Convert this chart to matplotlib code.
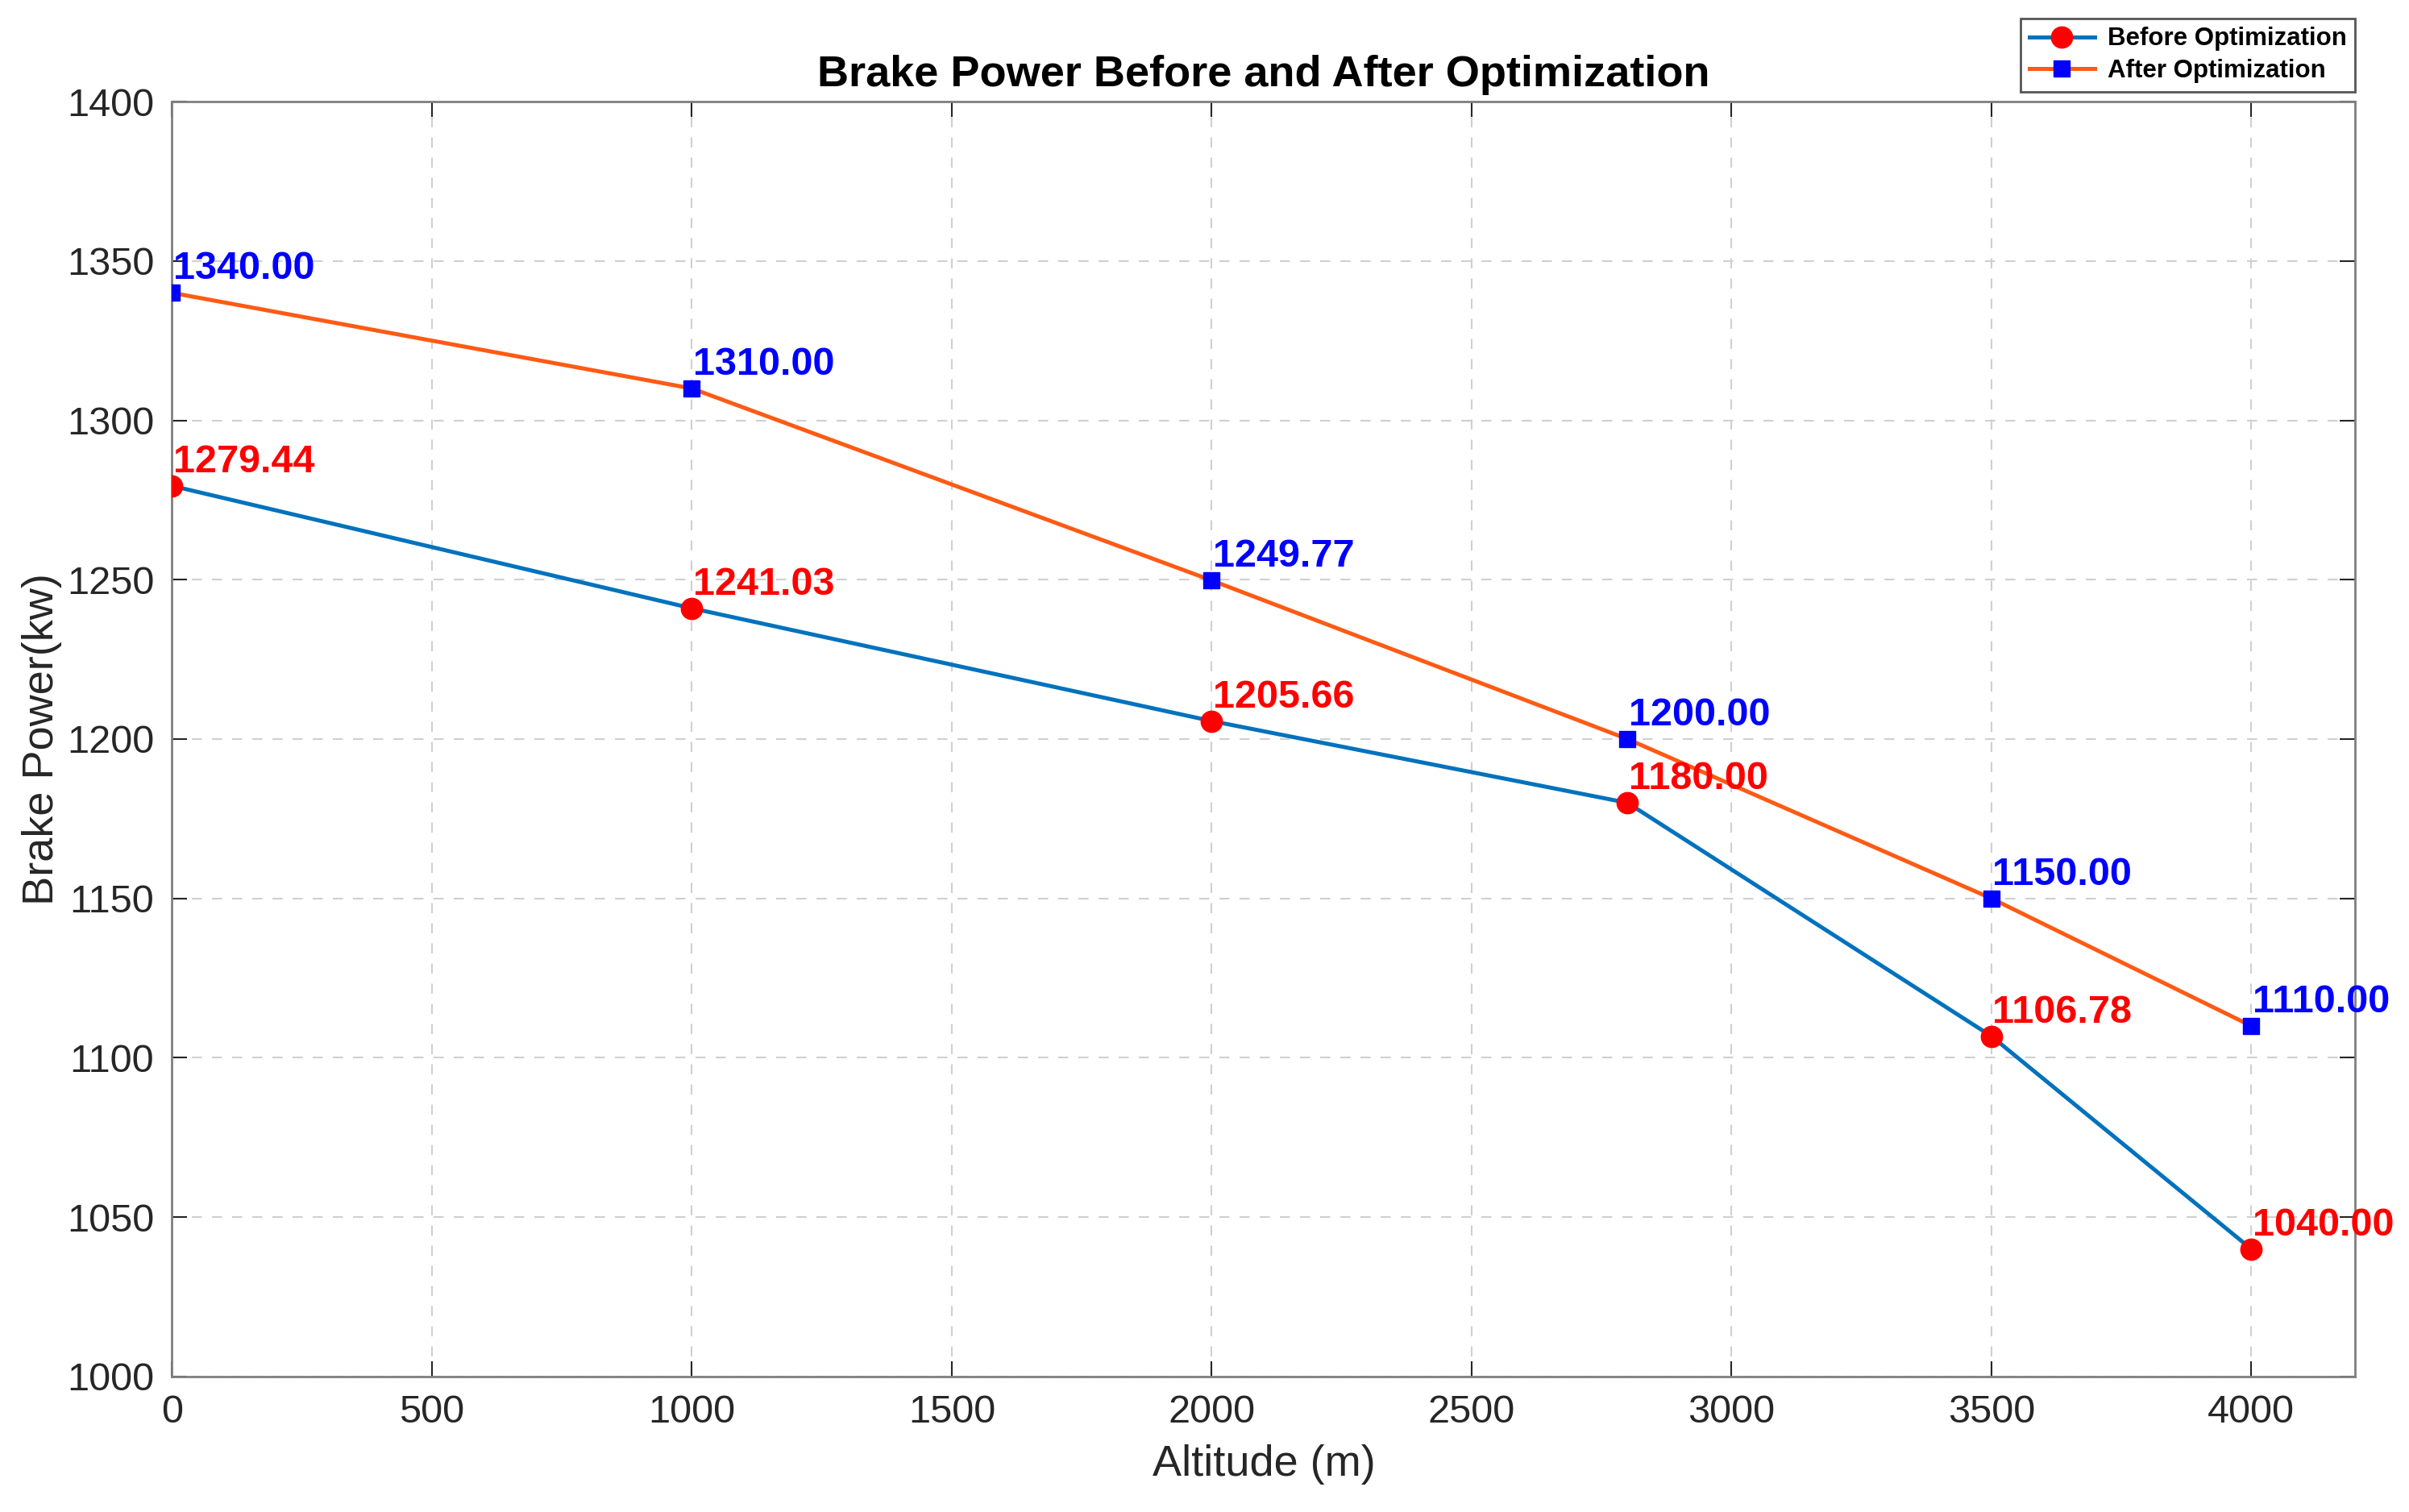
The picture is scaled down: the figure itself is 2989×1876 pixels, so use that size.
# Brake power before / after optimization

import matplotlib
matplotlib.use('Agg')
from matplotlib import pyplot as plt

plt.rcParams['font.family'] = ['Liberation Sans', 'DejaVu Sans']

# Data
altitude = [0, 1000, 2000, 2800, 3500, 4000]
power_before = [1279.44, 1241.03, 1205.66, 1180.00, 1106.78, 1040.00]
power_after = [1340.00, 1310.00, 1249.77, 1200.00, 1150.00, 1110.00]
x_ticks = [0, 500, 1000, 1500, 2000, 2500, 3000, 3500, 4000]
y_ticks = [1000, 1050, 1100, 1150, 1200, 1250, 1300, 1350, 1400]

fig = plt.figure(figsize=(29.89, 18.76), dpi=100)
ax = fig.add_axes([0.0714, 0.0896, 0.9063, 0.8432])

ax.plot(altitude, power_before, color='#0072BD', lw=3.6, marker='o',
        ms=19, mfc='red', mec='red', label='Before Optimization', zorder=3)
ax.plot(altitude, power_after, color='#FF5A14', lw=3.6, marker='s',
        ms=15, mfc='blue', mec='blue', label='After Optimization', zorder=3)

# value labels
for x, y in zip(altitude, power_before):
    ax.annotate('%.2f' % y, (x, y), xytext=(1, 5), textcoords='offset points',
                color='red', fontsize=35, fontweight='bold', ha='left', va='bottom')
for x, y in zip(altitude, power_after):
    ax.annotate('%.2f' % y, (x, y), xytext=(1, 5), textcoords='offset points',
                color='blue', fontsize=35, fontweight='bold', ha='left', va='bottom')

ax.set_xlim(0, 4200)
ax.set_ylim(1000, 1400)
ax.set_xticks(x_ticks)
ax.set_yticks(y_ticks)
ax.tick_params(direction='in', length=14, width=1.5, top=True, right=True,
               labelsize=35, colors='#262626', pad=16)
for s in ax.spines.values():
    s.set_color('#7f7f7f')
    s.set_linewidth(2)
ax.grid(True, ls=(0, (6, 6)), color='#d0d0d0', lw=1.5)

ax.set_xlabel('Altitude (m)', fontsize=39, color='#262626', labelpad=12)
ax.set_ylabel('Brake Power(kw)', fontsize=39, color='#262626', labelpad=4)
ax.set_title('Brake Power Before and After Optimization', fontsize=39,
             fontweight='bold', pad=14)

leg = fig.legend(loc='upper right', bbox_to_anchor=(0.9777, 0.988),
                 borderaxespad=0, prop={'size': 22.5, 'weight': 'bold'},
                 fancybox=False, framealpha=1, edgecolor='#555555',
                 handlelength=2.6, borderpad=0.35, labelspacing=0.3,
                 handletextpad=0.5)
leg.get_frame().set_linewidth(2)

fig.savefig('out.png', dpi=100)
